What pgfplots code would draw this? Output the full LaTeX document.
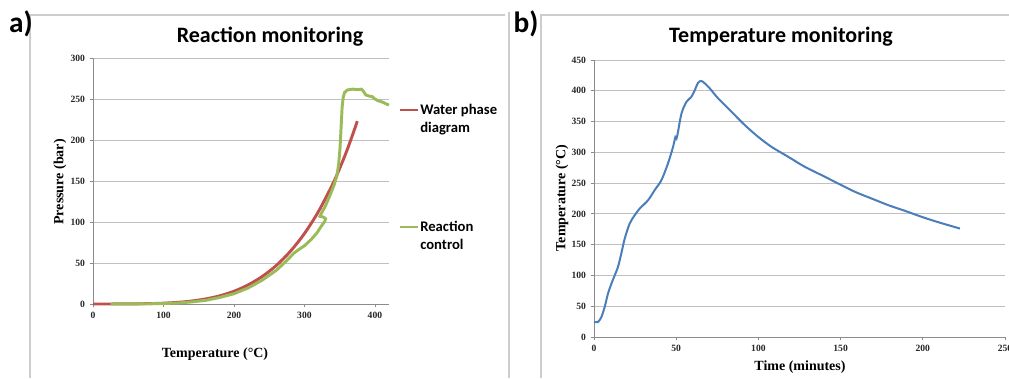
\documentclass[border=0pt]{standalone}
\usepackage{fontspec}
\setmainfont{Liberation Serif}
\newfontfamily\calfont{Carlito}
\usepackage{pgfplots}
\pgfplotsset{compat=1.18}
\definecolor{xred}{RGB}{192,80,77}
\definecolor{xgreen}{RGB}{155,187,89}
\definecolor{xblue}{RGB}{74,126,187}
\definecolor{gridc}{RGB}{192,192,192}
\definecolor{axc}{RGB}{140,140,140}
\definecolor{framec}{RGB}{205,205,205}
\pgfplotsset{myax/.style={scale only axis, anchor=south west,
  axis x line*=bottom, axis y line*=left,
  axis line style={axc, line width=0.6pt},
  ymajorgrids, grid style={gridc, line width=0.6pt},
  tick align=outside, major tick length=2.5pt,
  tick style={axc, line width=0.6pt},
  /pgf/number format/assume math mode=true,
  ticklabel style={font=\bfseries\fontsize{7.2}{8}\selectfont, text=black!85},
  clip=false}}
\begin{document}
\begin{tikzpicture}[x=0.75pt,y=0.75pt]
\path[use as bounding box] (0,0) rectangle (1009,378);
% frames
\draw[framec, line width=0.8pt] (30,0) -- (30,363) -- (505,363);
\draw[framec, line width=0.8pt] (509,0) -- (509,366);
\draw[framec, line width=0.8pt] (541,0) -- (541,363) -- (1009,363);
% left axis
\begin{axis}[myax, at={(69.75pt,55.5pt)}, width=222pt, height=184.5pt,
  xmin=0, xmax=420, ymin=0, ymax=300,
  xtick={0,100,200,300,400}, ytick={0,50,...,300}]
\addplot[xred, line width=2.2pt, smooth] coordinates {
(0,0.006)(20,0.023)(40,0.074)(60,0.2)(80,0.47)(100,1.01)(120,1.99)(140,3.61)
(160,6.18)(180,10.0)(200,15.5)(220,23.2)(240,33.5)(260,46.9)(280,64.2)
(300,85.9)(320,112.9)(340,146.0)(350,165.3)(360,186.5)(370,210.4)(375,223)};
\addplot[xgreen, line width=2.2pt] coordinates {
(25,0)(50,0.1)(80,0.3)(100,0.6)(120,1.2)(140,2.5)(160,4.5)(180,8)(200,12.5)
(220,19.5)(240,29)(260,41)(275,53)(285,62)(293,67)(300,71)(310,79)(318,87)
(324,95)(329,101)(330,104)(327,106)(322,107)(325,112)(330,120)(336,132)
(342,145)(346,156)(348.5,170)(350.5,190)(352,215)(353.5,240)(355,252)(357,258)
(361,261)(368,262)(375,261.5)(381,262)(384,259)(387,255)(392,253.5)(396,253)
(400,250)(404,248)(410,246.5)(416,244)(420,242.5)};
\end{axis}
% right axis
\begin{axis}[myax, at={(445.5pt,30.75pt)}, width=308.25pt, height=207.75pt,
  xmin=0, xmax=250, ymin=0, ymax=450,
  xtick={0,50,...,250}, ytick={0,50,...,450}]
\addplot[xblue, line width=1.5pt, smooth] coordinates {
(0,24.4)(2.4,24.4)(4.5,32.5)(6.5,48.8)(8.5,70.5)(10.6,86.7)(12.6,100.3)
(14.6,113.9)(16.6,135.5)(18.7,160)(21.7,184.3)(24.8,198)(27.8,208.7)
(32.9,222.3)(36.9,238.6)(41,254.8)(45,282)(48.1,309)(49.5,325)(50.2,322.6)
(51.1,333.4)(53.2,363)(56.2,382)(59.2,390)(61.3,401)(63.3,413)(65.3,416)
(67.4,412)(70.4,404)(75.5,387.7)(83.6,366)(91.7,344.3)(99.8,325.3)
(107.9,309)(118.1,292.8)(128.2,276.5)(138.4,263)(148.5,249.4)(158.7,235.9)
(168.8,225)(179,214.2)(189.1,205)(199.3,195.2)(209.4,186.5)(222.6,176.2)};
\end{axis}
% panel letters and titles
\node[font=\calfont\bfseries\fontsize{22}{24}\selectfont] at (21,354) {a)};
\node[font=\calfont\bfseries\fontsize{22}{24}\selectfont] at (526,354) {b)};
\node[font=\calfont\bfseries\fontsize{16.5}{18}\selectfont] at (270,341) {Reaction monitoring};
\node[font=\calfont\bfseries\fontsize{16.5}{18}\selectfont] at (781,341) {Temperature monitoring};
% axis labels
\node[font=\bfseries\fontsize{10.5}{12}\selectfont] at (215,24) {Temperature (°C)};
\node[font=\bfseries\fontsize{10.5}{12}\selectfont, rotate=90] at (60,196) {Pressure (bar)};
\node[font=\bfseries\fontsize{10.5}{12}\selectfont] at (800,11) {Time (minutes)};
\node[font=\bfseries\fontsize{10.5}{12}\selectfont, rotate=90] at (562,180) {Temperature (°C)};
% legend
\draw[xred, line width=2.2pt] (400,268) -- (418,268);
\draw[xgreen, line width=2.2pt] (400,151) -- (418,151);
\begin{scope}[every node/.style={anchor=base west, inner sep=0pt, font=\calfont\bfseries\fontsize{11}{12}\selectfont}]
\node at (420,263) {Water phase};
\node at (420,245) {diagram};
\node at (420,146) {Reaction};
\node at (420,128) {control};
\end{scope}
\end{tikzpicture}
\end{document}
